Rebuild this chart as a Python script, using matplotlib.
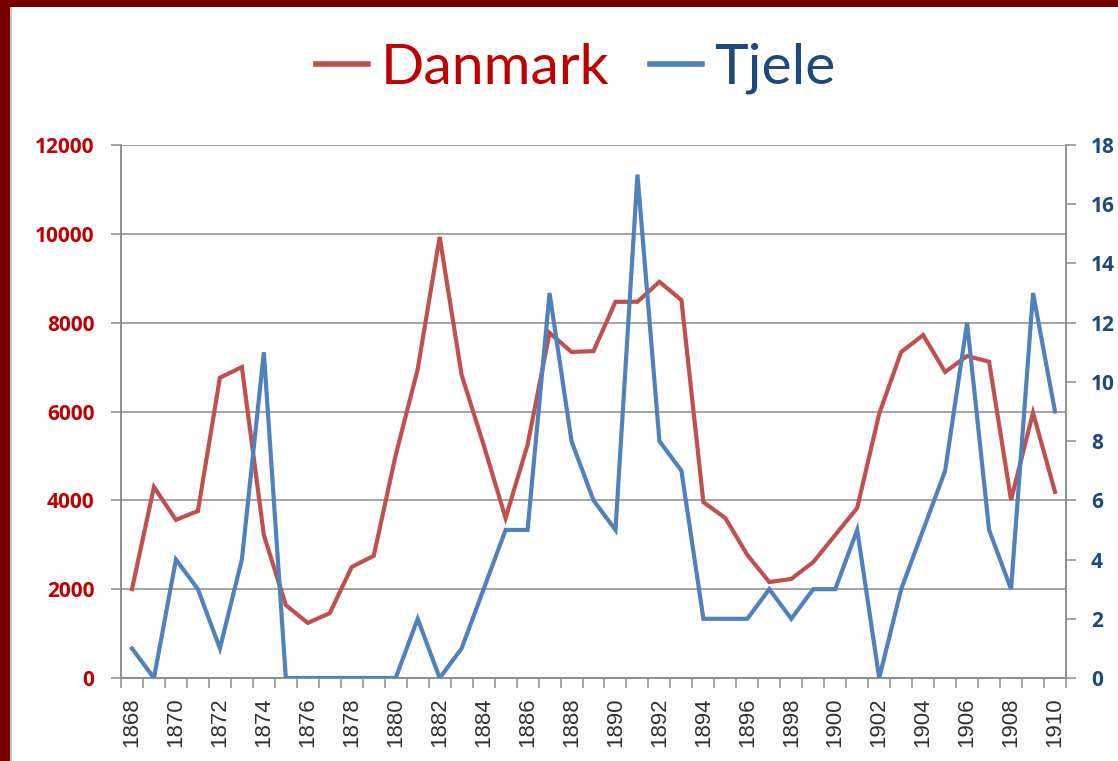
import matplotlib
matplotlib.use("Agg")
import matplotlib.pyplot as plt
from matplotlib.lines import Line2D
from matplotlib.patches import Rectangle
import numpy as np

years = list(range(1868, 1911))
danmark = [2000, 4300, 3560, 3760, 6760, 7000, 3220, 1640, 1240, 1460,
           2500, 2750, 5020, 6950, 9930, 6820, 5250, 3600, 5250, 7770,
           7340, 7360, 8470, 8470, 8920, 8510, 3960, 3600, 2770, 2160,
           2230, 2610, 3220, 3830, 5950, 7340, 7720, 6890, 7250, 7120,
           4010, 5970, 4190]
tjele = [1, 0, 4, 3, 1, 4, 11, 0, 0, 0,
         0, 0, 0, 2, 0, 1, 3, 5, 5, 13,
         8, 6, 5, 17, 8, 7, 2, 2, 2, 3,
         2, 3, 3, 5, 0, 3, 5, 7, 12, 5,
         3, 13, 9]
left_ticks = [0, 2000, 4000, 6000, 8000, 10000, 12000]
right_ticks = [0, 2, 4, 6, 8, 10, 12, 14, 16, 18]

RED = '#C0504D'
BLUE = '#4F81BD'
RED_TXT = '#C00000'
BLUE_TXT = '#1F497D'
GRID = '#8C8C8C'

W, H = 1118, 761
fig = plt.figure(figsize=(W / 100, H / 100), dpi=100)
fig.patch.set_facecolor('white')

# border
fig.patches.append(Rectangle((0, 0), 10 / W, 1, transform=fig.transFigure,
                             facecolor='#7A0000', edgecolor='none', zorder=0))
fig.patches.append(Rectangle((0, 1 - 7 / H), 1, 7 / H, transform=fig.transFigure,
                             facecolor='#7A0000', edgecolor='none', zorder=0))
fig.patches.append(Rectangle((10 / W, 0), 2 / W, 1 - 7 / H, transform=fig.transFigure,
                             facecolor='#C8C8C8', edgecolor='none', zorder=0))

left, right, top, bottom = 121, 1066, 145, 678
ax = fig.add_axes([left / W, 1 - bottom / H, (right - left) / W, (bottom - top) / H])
ax2 = ax.twinx()

x = np.arange(len(years))
ax.plot(x, danmark, color=RED, lw=3, solid_joinstyle='miter', zorder=3)
ax2.plot(x, tjele, color=BLUE, lw=3, solid_joinstyle='miter', zorder=3)

ax.set_xlim(-0.5, len(years) - 0.5)
ax.set_ylim(0, 12000)
ax2.set_ylim(0, 18)
ax.set_yticks(left_ticks)
ax2.set_yticks(right_ticks)
ax.yaxis.grid(True, color=GRID, lw=1.1)
ax.set_axisbelow(True)

major = x[::2]
ax.set_xticks(major)
ax.set_xticklabels([str(years[i]) for i in major], rotation=90,
                   fontsize=16, family='Liberation Sans', color='#303030')
ax.set_xticks(np.arange(-0.5, len(years), 1), minor=True)
ax.tick_params(axis='x', which='major', length=0, pad=14)
ax.tick_params(axis='x', which='minor', length=7, color=GRID, width=1.1)

for lab in ax.get_yticklabels():
    lab.set_fontfamily('Open Sans')
    lab.set_fontweight('bold')
    lab.set_fontsize(15)
    lab.set_color(RED_TXT)
ax.tick_params(axis='y', length=7, color=GRID, width=1.1, pad=12)
for lab in ax2.get_yticklabels():
    lab.set_fontfamily('Open Sans')
    lab.set_fontweight('bold')
    lab.set_fontsize(15)
    lab.set_color(BLUE_TXT)
ax2.tick_params(axis='y', length=7, color=GRID, width=1.1, pad=11)

for a in (ax, ax2):
    a.spines['top'].set_visible(False)
    for s in ('left', 'right', 'bottom'):
        a.spines[s].set_color(GRID)
        a.spines[s].set_linewidth(1.1)

handles = [Line2D([], [], color=RED, lw=4), Line2D([], [], color=BLUE, lw=4)]
leg = fig.legend(handles, ['Danmark', 'Tjele'], loc='center',
                 bbox_to_anchor=(0.515, 0.91), ncol=2, frameon=False,
                 prop={'family': 'Lato', 'size': 41}, handlelength=0.91,
                 handletextpad=0.21, columnspacing=0.72)
for t, c in zip(leg.get_texts(), [RED_TXT, BLUE_TXT]):
    t.set_color(c)

fig.savefig('out.png', dpi=100, facecolor='white')
